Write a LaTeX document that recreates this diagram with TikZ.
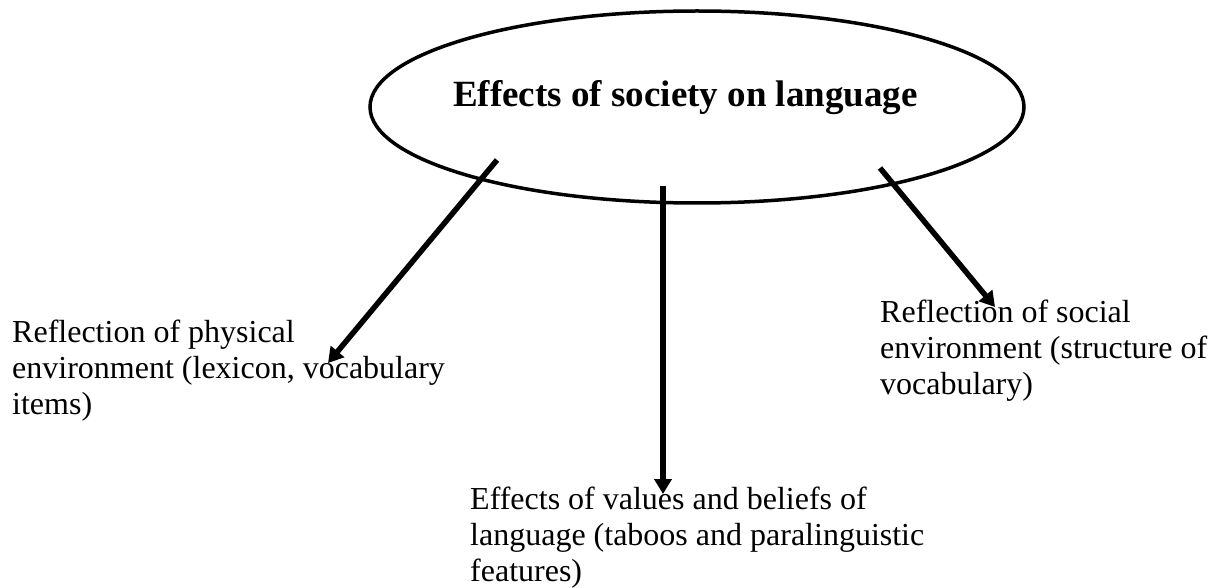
\documentclass[tikz,border=0pt]{standalone}
\usepackage{fontspec}
\setmainfont{Liberation Serif}
\usetikzlibrary{arrows.meta,shapes.geometric}
\begin{document}
\begin{tikzpicture}[x=1pt,y=-1pt,
  bodytext/.style={anchor=north west,inner sep=0pt,align=left,font=\fontsize{32}{36}\selectfont},
  conn/.style={line width=5.5pt,-{Triangle[width=17pt,length=15pt]}}]
\useasboundingbox (0,0) rectangle (1210,588);
\node[draw,ellipse,line width=3.5pt,minimum width=654pt,minimum height=192pt,inner sep=0pt] (e) at (697,107) {};
\node[anchor=base west,inner sep=0pt,font=\fontsize{37}{42}\selectfont\bfseries] (t) at (453,107) {Effects of society on language};
\node[bodytext] (l) at (12,320) {Reflection of physical\\environment (lexicon, vocabulary\\items)};
\node[bodytext] (r) at (880,300) {Reflection of social\\environment (structure of\\vocabulary)};
\node[bodytext] (b) at (470,487) {Effects of values and beliefs of\\language (taboos and paralinguistic\\features)};
\coordinate (s1) at (497,160);
\coordinate (s2) at (663,186);
\coordinate (s3) at (880,168);
\coordinate (e1) at (328,363);
\coordinate (e2) at (663,494);
\coordinate (e3) at (995,307);
\draw[conn] (s1) -- (e1);
\draw[conn] (s2) -- (e2);
\draw[conn] (s3) -- (e3);
\end{tikzpicture}
\end{document}
